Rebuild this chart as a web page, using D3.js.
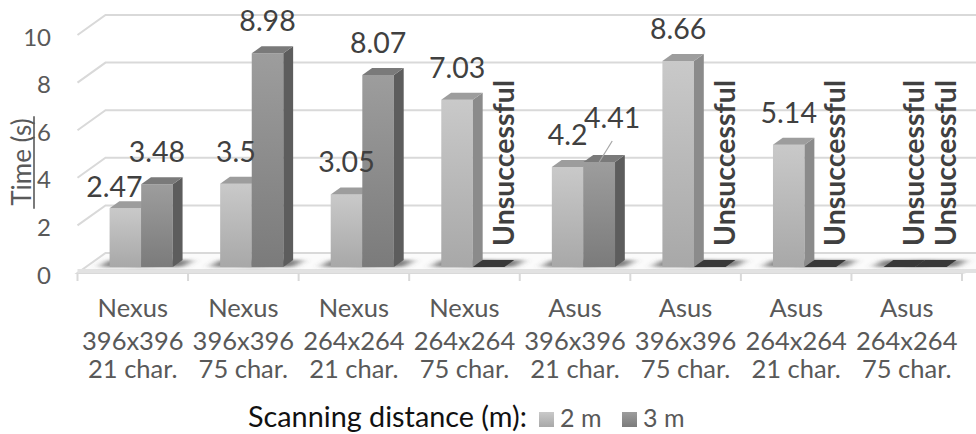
<!DOCTYPE html>
<html>
<head>
<meta charset="utf-8">
<script src="https://cdn.jsdelivr.net/npm/d3@7"></script>
<style>
  body { margin: 0; background: #fff; }
  svg { display: block; }
  text { font-family: Lato, "Open Sans", sans-serif; }
</style>
</head>
<body>
<svg id="chart" width="976" height="434"></svg>
<script>
// ---- data ----
const deviceNames = ["Nexus", "Nexus", "Nexus", "Nexus", "Asus", "Asus", "Asus", "Asus"];
const resolutions = ["396x396", "396x396", "264x264", "264x264", "396x396", "396x396", "264x264", "264x264"];
const charCounts  = ["21 char.", "75 char.", "21 char.", "75 char.", "21 char.", "75 char.", "21 char.", "75 char."];
const seriesNames = ["2 m", "3 m"];
const times2m = [2.47, 3.5, 3.05, 7.03, 4.2, 8.66, 5.14, null];   // null = scan failed
const times3m = [3.48, 8.98, 8.07, null, 4.41, null, null, null];
const yTicks = [0, 2, 4, 6, 8, 10];
const failText = "Unsuccessful";
const axisTitle = "Time (s)";
const legendTitle = "Scanning distance (m):";

// ---- layout / projection ----
const W = 976, H = 434;
const X0 = 77.5, X1 = 962, Y0 = 273;       // front edge of the floor
const DX = 28, DY = -20;                    // full depth offset of the 3D box
const T_FRONT = 0.3, T_BACK = 0.65;         // depth slice occupied by the bars

const svg = d3.select("#chart");
const defs = svg.append("defs");

const x0 = d3.scaleBand().domain(d3.range(deviceNames.length)).range([X0, X1]);
const x1 = d3.scaleBand().domain(seriesNames).range([0, x0.bandwidth()]).paddingOuter(0.75);
const y = d3.scaleLinear().domain([0, 10]).range([0, 238]);
const proj = (x, v, t) => [x + DX * t, Y0 + DY * t - y(v)];
const pts = a => a.map(p => p.join(",")).join(" ");

const styles = [
  { top: "#c9c9c9", bottom: "#a8a8a8", side: "#8b8b8b", cap: "#9d9d9d" },
  { top: "#9d9d9d", bottom: "#7b7b7b", side: "#5d5d5d", cap: "#7a7a7a" }
];
styles.forEach((s, i) => {
  const g = defs.append("linearGradient").attr("id", "grad" + i)
    .attr("x1", 0).attr("y1", 0).attr("x2", 0).attr("y2", 1);
  g.append("stop").attr("offset", "0%").attr("stop-color", s.top);
  g.append("stop").attr("offset", "100%").attr("stop-color", s.bottom);
});
defs.append("filter").attr("id", "soft").attr("x", "-50%").attr("y", "-200%")
  .attr("width", "200%").attr("height", "500%")
  .append("feGaussianBlur").attr("stdDeviation", "5 1.6");

// ---- walls & gridlines ----
const grid = svg.append("g").attr("fill", "none").attr("stroke", "#d9d9d9").attr("stroke-width", 2);
yTicks.filter(v => v > 0).forEach(v => {
  const a = proj(X0, v, 0), b = proj(X0, v, 1);
  grid.append("path").attr("d", `M${a}L${b}L${W + 5},${b[1]}`);
});

// floor
svg.append("polygon")
  .attr("points", pts([proj(X0, 0, 0), proj(X1, 0, 0), proj(X1 + 60, 0, 1), proj(X0, 0, 1)]))
  .attr("fill", "#fbfbfb").attr("stroke", "#d9d9d9").attr("stroke-width", 2);
svg.append("line").attr("x1", X0).attr("x2", W + 5).attr("y1", Y0 - 2).attr("y2", Y0 - 2)
  .attr("stroke", "#e2e2e2").attr("stroke-width", 4);

// category tick marks
svg.append("g").selectAll("line").data(d3.range(deviceNames.length + 1)).join("line")
  .attr("x1", i => X0 + i * x0.step()).attr("x2", i => X0 + i * x0.step())
  .attr("y1", Y0).attr("y2", Y0 + 8)
  .attr("stroke", "#d9d9d9").attr("stroke-width", 2);

// ---- bars ----
const bars = [];
deviceNames.forEach((_, i) => {
  [times2m[i], times3m[i]].forEach((v, j) => {
    const xl = x0(i) + x1(seriesNames[j]);
    bars.push({ i, j, v, xl, xr: xl + x1.bandwidth() });
  });
});

// soft contact shadows on the floor
const shadowG = svg.append("g").attr("filter", "url(#soft)");
bars.forEach(b => {
  const p = [proj(b.xl - 10, 0, T_FRONT), proj(b.xr + 10, 0, T_FRONT),
             proj(b.xr + 10, 0, T_BACK), proj(b.xl - 10, 0, T_BACK)];
  shadowG.append("polygon").attr("points", pts(p)).attr("fill", "#555").attr("opacity", 0.75);
});

const barG = svg.append("g");
bars.forEach(b => {
  const v = b.v || 0, s = styles[b.j];
  const top = [proj(b.xl, v, T_FRONT), proj(b.xr, v, T_FRONT), proj(b.xr, v, T_BACK), proj(b.xl, v, T_BACK)];
  if (v > 0) {
    barG.append("polygon").attr("fill", `url(#grad${b.j})`)
      .attr("points", pts([proj(b.xl, 0, T_FRONT), proj(b.xr, 0, T_FRONT), proj(b.xr, v, T_FRONT), proj(b.xl, v, T_FRONT)]));
    barG.append("polygon").attr("fill", s.side)
      .attr("points", pts([proj(b.xr, 0, T_FRONT), proj(b.xr, 0, T_BACK), proj(b.xr, v, T_BACK), proj(b.xr, v, T_FRONT)]));
    barG.append("polygon").attr("fill", s.cap).attr("points", pts(top));
  } else {
    barG.append("polygon").attr("fill", "#383838").attr("points", pts(top));
  }
});

// ---- data labels ----
const labelNudge = { "0-0": { dx: -11, dy: 11 }, "4-1": { dx: 13, dy: -12, leader: true } };
const labelG = svg.append("g");
bars.forEach(b => {
  const cx = (b.xl + b.xr) / 2 + DX * T_FRONT;
  const v = b.v || 0;
  const topY = proj(b.xl, v, T_FRONT)[1];
  if (b.v == null) {
    const tx = cx + 25, ty = topY - 21;
    labelG.append("text").text(failText)
      .attr("transform", `translate(${tx},${ty}) rotate(-90)`)
      .attr("font-size", 28.5).attr("font-weight", 700).attr("fill", "#404040");
    return;
  }
  const n = labelNudge[`${b.i}-${b.j}`] || { dx: 0, dy: 0 };
  const lx = cx + n.dx, ly = topY - 22 + n.dy;
  labelG.append("text").text(b.v)
    .attr("x", lx).attr("y", ly).attr("text-anchor", "middle")
    .attr("font-size", 28.5).attr("fill", "#404040");
  if (n.leader) {
    labelG.append("line").attr("x1", lx).attr("y1", ly + 13).attr("x2", cx).attr("y2", topY)
      .attr("stroke", "#a6a6a6").attr("stroke-width", 1.2);
  }
});

// ---- value axis ----
svg.append("g").selectAll("text").data(yTicks).join("text")
  .attr("x", 51).attr("y", v => proj(X0, v, 0)[1] + 1)
  .attr("text-anchor", "end").attr("dominant-baseline", "central")
  .attr("font-size", 24).attr("fill", "#595959").text(v => v);

const titleG = svg.append("g").attr("transform", "translate(31,162) rotate(-90)");
const title = titleG.append("text").text(axisTitle).attr("text-anchor", "middle")
  .attr("font-size", 26).attr("fill", "#595959");
const tw = title.node().getComputedTextLength();
titleG.append("line").attr("x1", -tw / 2 - 3).attr("x2", tw / 2 + 2).attr("y1", 3).attr("y2", 3)
  .attr("stroke", "#595959").attr("stroke-width", 1.6);

// ---- category labels ----
const catG = svg.append("g").attr("font-size", 25.5).attr("fill", "#595959").attr("text-anchor", "middle");
[deviceNames, resolutions, charCounts].forEach((row, r) => {
  catG.append("g").selectAll("text").data(row).join("text")
    .attr("x", (d, i) => x0(i) + x0.bandwidth() / 2)
    .attr("y", [317, 350, 378][r]).text(d => d);
});

// ---- legend ----
const lg = svg.append("g");
lg.append("text").text(legendTitle).attr("x", 248).attr("y", 427)
  .attr("font-size", 28.8).attr("fill", "#111");
const legX = [539, 622];
seriesNames.forEach((s, j) => {
  lg.append("rect").attr("x", legX[j]).attr("y", 412).attr("width", 15).attr("height", 15)
    .attr("fill", `url(#grad${j})`);
  lg.append("text").text(s).attr("x", legX[j] + 21).attr("y", 427)
    .attr("font-size", 25).attr("fill", "#595959");
});
</script>
</body>
</html>
